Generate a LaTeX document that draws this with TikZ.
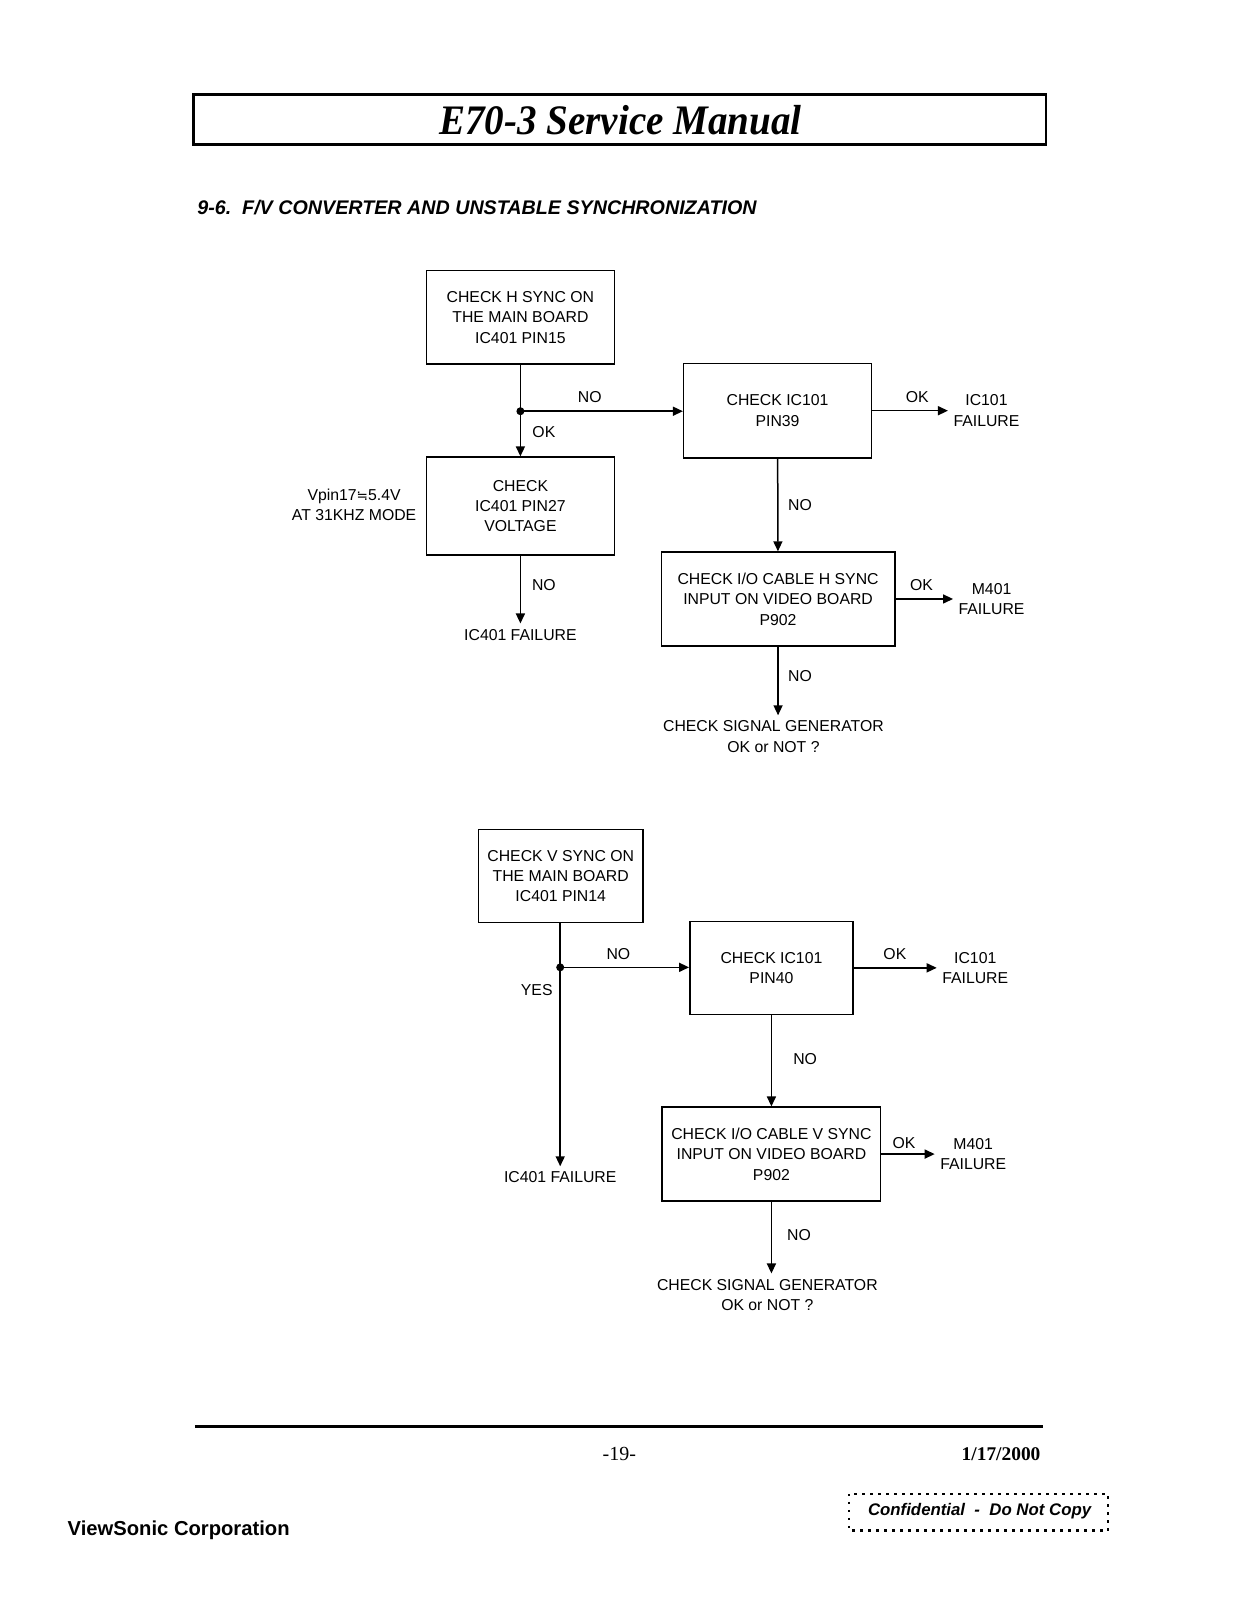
\documentclass[tikz,border=0pt]{standalone}
\usepackage{fontspec}
\setmainfont{Liberation Sans}
\newfontfamily\serifface{Liberation Serif}
\newfontfamily\symface{DejaVu Sans}
\usetikzlibrary{arrows.meta,calc}

\newcommand\flowfont{\fontsize{7.9}{10.2}\selectfont}

\tikzset{
    chkbox/.style={draw, line width=0.75pt, align=center, font=\flowfont, inner sep=2pt},
    lbl/.style={font=\flowfont, inner sep=0pt},
    result/.style={font=\flowfont, align=center, inner sep=2.6pt},
    arr/.style={line width=0.75pt, -{Triangle[length=5pt,width=4.5pt]}},
    wire/.style={line width=0.75pt}
}

\begin{document}
\begin{tikzpicture}[x=0.5102pt, y=-0.5102pt]
        \useasboundingbox (0,0) rectangle (1215.2,1569);

        % Page header
        \draw[line width=1.4pt] (190,93) rectangle (1025,142);
        \node (title) at (608,118) {\scalebox{0.93}[1]{\serifface\bfseries\itshape\fontsize{21}{21}\selectfont E70-3 Service Manual}};
        \node[anchor=west, inner sep=0pt, font=\bfseries\itshape\fontsize{9.85}{11}\selectfont] (heading) at (193,203)
            {9-6.\ \ F/V CONVERTER AND UNSTABLE SYNCHRONIZATION};

        % H sync chart
        \node[chkbox, minimum width=93.9pt, minimum height=46.9pt] (hmain) at (510,311) {CHECK H SYNC ON\\THE MAIN BOARD\\IC401 PIN15};
        \coordinate (hjoin) at (510,403);
        \node[chkbox, minimum width=93.9pt, minimum height=49pt] (hvolt) at (510,496) {CHECK\\IC401 PIN27\\VOLTAGE};
        \node[result, inner sep=0pt] (hnote) at (347,495) {Vpin17{\symface\fontsize{6.8}{8}\selectfont ≒}5.4V\\AT 31KHZ MODE};
        \node[result, anchor=north] (hicfail) at (510,611) {IC401 FAILURE};
        \node[chkbox, minimum width=93.9pt, minimum height=47.4pt] (hpin) at (762,402.5) {CHECK IC101\\PIN39};
        \node[result, anchor=west] (hpinfail) at (929,402.5) {IC101\\FAILURE};
        \node[chkbox, minimum width=116.8pt, minimum height=46.9pt] (hcable) at (762.5,587) {CHECK I/O CABLE H SYNC\\INPUT ON VIDEO BOARD\\P902};
        \node[result, anchor=west] (hcablefail) at (934,587) {M401\\FAILURE};
        \node[result, anchor=north] (hgen) at (758,701) {CHECK SIGNAL GENERATOR\\OK or NOT ?};

        \draw[wire] (hmain) -- (hjoin);
        \fill (hjoin) circle (2pt);
        \draw[arr] (hjoin) -- (hvolt);
        \draw[arr] (hjoin) -- (hjoin -| hpin.west);
        \draw[arr] (hvolt) -- (hicfail);
        \draw[arr] (hpin) -- (hpinfail);
        \draw[arr] (hpin) -- (hcable);
        \draw[arr] (hcable) -- (hcablefail);
        \draw[arr] (hcable) -- (hcable |- hgen.north);

        \node[lbl] at (578,389) {NO};
        \node[lbl] at (533,423) {OK};
        \node[lbl] at (533,573) {NO};
        \node[lbl] at (899,389) {OK};
        \node[lbl] at (784,495) {NO};
        \node[lbl] at (903,573) {OK};
        \node[lbl] at (784,663) {NO};

        % V sync chart
        \node[chkbox, minimum width=82.1pt, minimum height=46.4pt] (vmain) at (549.5,858.5) {CHECK V SYNC ON\\THE MAIN BOARD\\IC401 PIN14};
        \coordinate (vjoin) at (549,948);
        \node[result, anchor=north] (vicfail) at (549,1143) {IC401 FAILURE};
        \node[chkbox, minimum width=81.6pt, minimum height=46.4pt] (vpin) at (756,948.5) {CHECK IC101\\PIN40};
        \node[result, anchor=west] (vpinfail) at (918,948.5) {IC101\\FAILURE};
        \node[chkbox, minimum width=109.2pt, minimum height=46.9pt] (vcable) at (756,1131) {CHECK I/O CABLE V SYNC\\INPUT ON VIDEO BOARD\\P902};
        \node[result, anchor=west] (vcablefail) at (916,1131) {M401\\FAILURE};
        \node[result, anchor=north] (vgen) at (752,1248) {CHECK SIGNAL GENERATOR\\OK or NOT ?};

        \draw[wire] (vmain.south -| vjoin) -- (vjoin);
        \fill (vjoin) circle (2pt);
        \draw[arr] (vjoin) -- (vicfail);
        \draw[arr] (vjoin) -- (vjoin -| vpin.west);
        \draw[arr] (vpin) -- (vpinfail);
        \draw[arr] (vpin) -- (vcable);
        \draw[arr] (vcable) -- (vcablefail);
        \draw[arr] (vcable) -- (vcable |- vgen.north);

        \node[lbl] at (606,935) {NO};
        \node[lbl] at (526,970) {YES};
        \node[lbl] at (877,935) {OK};
        \node[lbl] at (789,1038) {NO};
        \node[lbl] at (886,1120) {OK};
        \node[lbl] at (783,1210) {NO};

        % Page footer
        \draw[line width=1.5pt] (191,1398) -- (1022,1398);
        \node (page) at (607,1425) {\serifface\fontsize{10}{12}\selectfont -19-};
        \node[anchor=east, inner sep=0pt] (date) at (1020,1425) {\serifface\bfseries\fontsize{9.7}{12}\selectfont 1/17/2000};
        \draw[line width=1.3pt, dash pattern=on 1.3pt off 2.7pt] (832,1464) rectangle (1086,1500);
        \node (conf) at (960,1481) {\bfseries\itshape\fontsize{8.4}{10}\selectfont Confidential\ \ -\ \ Do Not Copy};
        \node[anchor=west, inner sep=0pt] (corp) at (66,1500) {\bfseries\fontsize{10.1}{12}\selectfont ViewSonic Corporation};
\end{tikzpicture}
\end{document}
